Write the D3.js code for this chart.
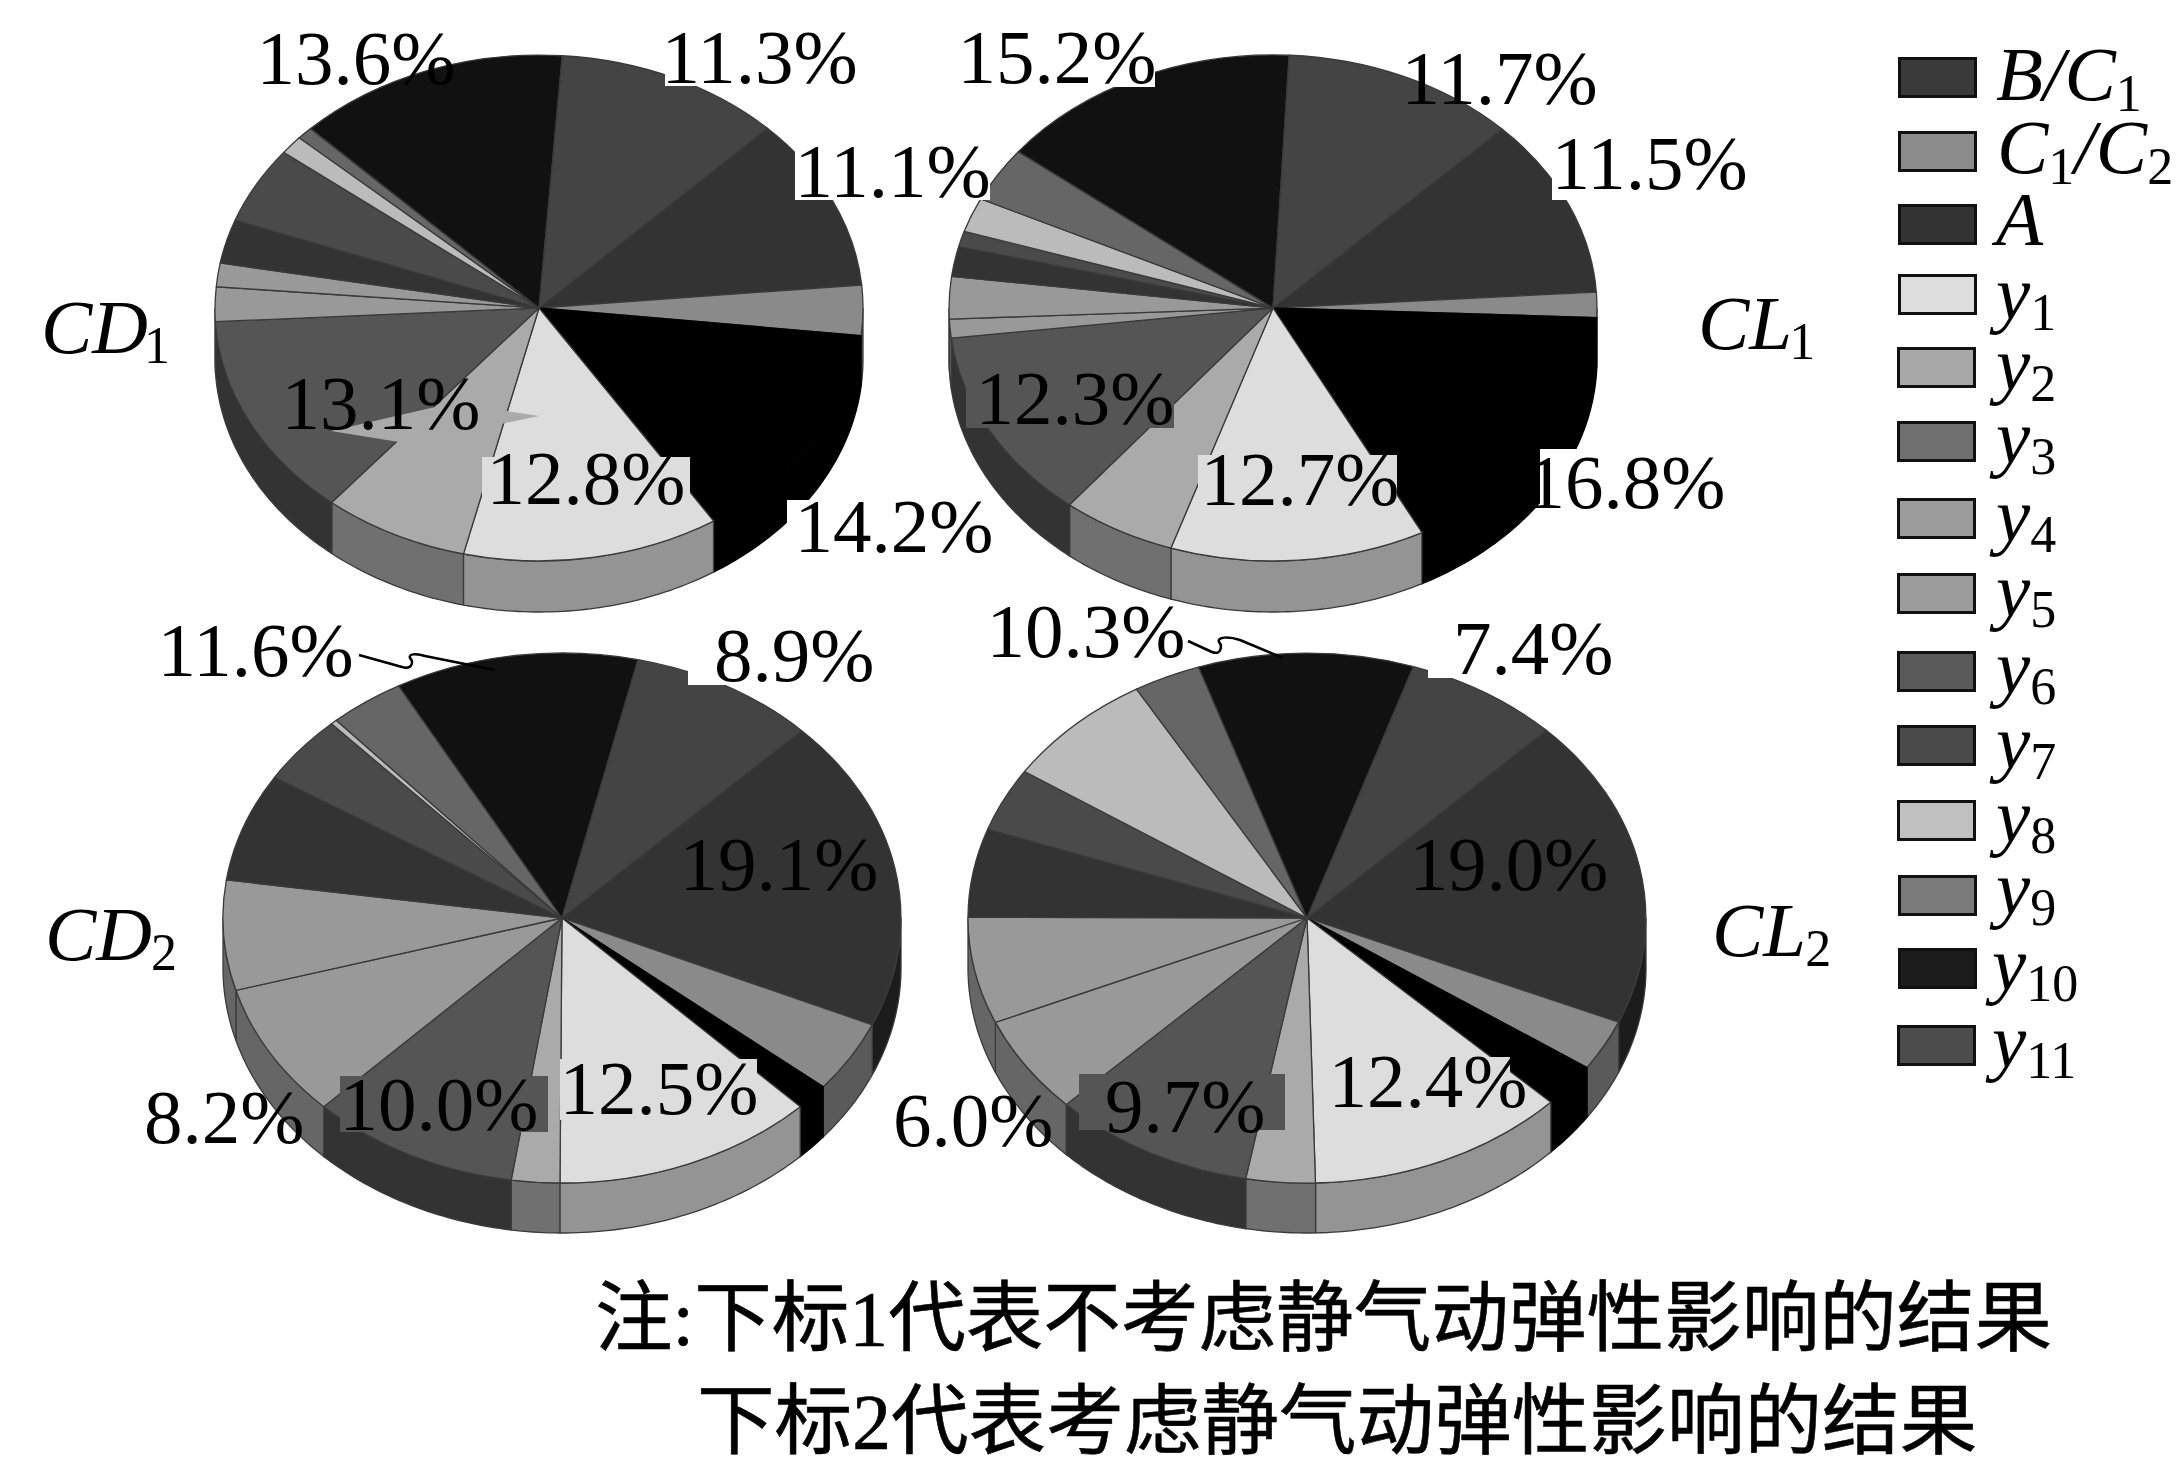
<!DOCTYPE html>
<html><head><meta charset="utf-8">
<script src="https://cdn.jsdelivr.net/npm/d3@7/dist/d3.min.js"></script>
<style>
html,body{margin:0;padding:0;background:#fff}
svg{display:block}
text{font-family:"Liberation Serif","Noto Sans CJK SC",serif;fill:#000}
</style></head><body>
<svg id="c" width="2180" height="1469"></svg>
<script>
// ---------- data ----------
const categories = ["B/C1","C1/C2","A","y1","y2","y3","y4","y5","y6","y7","y8","y9","y10","y11"];
const valuesCD1 = [11.1,3.2,14.2,12.8,7.3,13.1,2.2,1.5,2.8,4.9,1.2,0.8,13.6,11.3];
const valuesCL1 = [11.5,1.6,16.8,12.7,5.7,12.3,1.2,2.7,1.9,1.0,2.2,3.5,15.2,11.7];
const valuesCD2 = [19.1,4.4,1.6,12.5,2.3,10.0,8.2,6.7,6.6,4.2,0.3,3.6,11.6,8.9];
const valuesCL2 = [19.0,3.1,2.7,12.4,3.3,9.7,6.0,6.5,5.4,3.9,7.3,3.2,10.3,7.4];
const noteLines = ["注:下标1代表不考虑静气动弹性影响的结果","下标2代表考虑静气动弹性影响的结果"];

// ---------- styles ----------
const topColors  = ["#333333","#8a8a8a","#000000","#dddddd","#aaaaaa","#555555","#999999","#999999","#333333","#4a4a4a","#bbbbbb","#666666","#111111","#444444"];
const sideColors = ["#1c1c1c","#5a5a5a","#000000","#949494","#707070","#333333","#666666","#666666","#222222","#333333","#888888","#444444","#0a0a0a","#2a2a2a"];
const legendFills = ["#3a3a3a","#8c8c8c","#333333","#dddddd","#a8a8a8","#707070","#9c9c9c","#9c9c9c","#5a5a5a","#4a4a4a","#c0c0c0","#7a7a7a","#1c1c1c","#4c4c4c"];

// ---------- layout ----------
const pieLayout = [
  {vals:valuesCD1, cx:539, cy:308, rx:324, ry:253, depth:51, start:44.8},
  {vals:valuesCL1, cx:1273,cy:308, rx:324, ry:253, depth:51, start:45},
  {vals:valuesCD2, cx:562, cy:918, rx:339, ry:265, depth:50, start:45},
  {vals:valuesCL2, cx:1307,cy:918, rx:339, ry:265, depth:50, start:44.9}
];
// pie index, category index, ink-left x, baseline y
const percentLabels = [
  [0,12,262,84],[0,13,667,83],[0,0,800,197],[0,2,800,552],[0,3,492,504],[0,5,287,429],
  [1,12,963,83],[1,13,1407,104],[1,0,1557,189],[1,5,981,424],[1,3,1206,505],[1,2,1532,508],
  [2,12,163,676],[2,13,717,681],[2,0,685,890],[2,3,565,1114],[2,5,345,1130],[2,6,147,1143],
  [3,12,992,657],[3,13,1454,674],[3,0,1415,890],[3,3,1334,1107],[3,5,1107,1132],[3,6,894,1146]
];
// label background patches left in the figure: x0,y0,x1,y1,fill
const patches = [
  [665,35,860,86,"#fff"],[795,142,990,200,"#fff"],[787,500,990,560,"#fff"],[482,457,690,514,"#ddd"],
  [960,40,1155,87,"#fff"],[1552,130,1760,200,"#fff"],[966,372,1174,428,"#555"],[1198,455,1397,513,"#ddd"],[1540,449,1730,522,"#fff"],
  [688,620,900,685,"#fff"],[340,1076,548,1132,"#555"],[560,1059,757,1120,"#ddd"],
  [1428,620,1640,678,"#fff"],[1079,1074,1285,1130,"#555"],[1333,1057,1510,1105,"#ddd"]
];
const wedge = [[331,431],[435,407],[507,411],[539,416],[501,424],[399,442]];
const leaders = [
  "M359,655 L402,667 C412,670 414,662 410,658 C408,654 416,653 425,656 L495,670",
  "M1188,641 L1212,652 C1222,656 1222,645 1219,642 C1217,637 1228,636 1240,640 L1283,658"
];
const seriesLabels = [
  {base:"CD",sub:"1",x:41,y:353,dx:-4},
  {base:"CL",sub:"1",x:1698,y:349,dx:-3},
  {base:"CD",sub:"2",x:45,y:960,dx:-1},
  {base:"CL",sub:"2",x:1712,y:956,dx:-1}
];
const legendTops = [57,131,204,274,347,421,498,573,651,725,800,875,948,1025];
const legendBases = [100,173,245,319,390,463,541,616,693,768,842,914,990,1067];
const legendLeft = [1898,1898,1898,1898,1897,1897,1897,1897,1897,1897,1897,1898,1898,1897];

// ---------- drawing ----------
const svg = d3.select("#c");
const FS = 77, SUB = 52, rad = Math.PI/180;
const pie = d3.pie().sort(null).value(d=>d);
const arc = d3.arc().innerRadius(0).outerRadius(1);
const line = d3.line();
const edge = i => i===2 ? "#000" : "#3a3a3a";

pieLayout.forEach(p=>{
  const slices = pie.startAngle(p.start*rad).endAngle((p.start+360)*rad)(p.vals);
  const g = svg.append("g");
  const px = a=>p.cx+p.rx*Math.sin(a), py = a=>p.cy-p.ry*Math.cos(a);
  // side walls: the front half of the ellipse (90deg..270deg)
  slices.forEach(s=>{
    for (const shift of [0,-360*rad]) {
      const a0=Math.max(s.startAngle+shift,90*rad), a1=Math.min(s.endAngle+shift,270*rad);
      if(a1<=a0) continue;
      const n=Math.max(2,Math.ceil((a1-a0)/rad));
      const ang=d3.range(n+1).map(i=>a0+(a1-a0)*i/n);
      const pts=ang.map(a=>[px(a),py(a)]).concat(ang.slice().reverse().map(a=>[px(a),py(a)+p.depth]));
      g.append("path").attr("d",line(pts)+"Z")
        .attr("fill",sideColors[s.index]).attr("stroke",edge(s.index)).attr("stroke-width",1.3);
    }
  });
  // top face
  const t=g.append("g").attr("transform",`translate(${p.cx},${p.cy}) scale(${p.rx},${p.ry})`);
  t.selectAll("path").data(slices).join("path")
    .attr("d",arc).attr("fill",d=>topColors[d.index])
    .attr("stroke",d=>edge(d.index)).attr("stroke-width",1.3).attr("vector-effect","non-scaling-stroke")
    .attr("stroke-linejoin","round");
});

// label patches
svg.append("g").selectAll("rect").data(patches).join("rect")
  .attr("x",d=>d[0]).attr("y",d=>d[1]).attr("width",d=>d[2]-d[0]).attr("height",d=>d[3]-d[1]).attr("fill",d=>d[4]);
svg.append("path").attr("d",line(wedge)+"Z").attr("fill","#aaaaaa");

// percent labels
const lsb={"1":5.5,"8":3,"7":1,"6":1};
svg.append("g").selectAll("text").data(percentLabels).join("text")
  .attr("font-size",FS)
  .attr("x",d=>d[2]-(lsb[pieLayout[d[0]].vals[d[1]].toFixed(1)[0]]||2))
  .attr("y",d=>d[3])
  .text(d=>pieLayout[d[0]].vals[d[1]].toFixed(1)+"%");

// leaders
svg.append("g").selectAll("path").data(leaders).join("path")
  .attr("d",d=>d).attr("fill","none").attr("stroke","#000").attr("stroke-width",2.5);

// series names
seriesLabels.forEach(s=>{
  const t=svg.append("text").attr("x",s.x).attr("y",s.y).attr("font-size",FS);
  t.append("tspan").attr("font-style","italic").text(s.base);
  t.append("tspan").attr("font-size",SUB).attr("dx",s.dx).attr("dy",10).text(s.sub);
});

// legend
const legend=svg.append("g");
categories.forEach((c,i)=>{
  legend.append("rect").attr("x",legendLeft[i]+1.5).attr("y",legendTops[i]+1.5)
    .attr("width",76).attr("height",38)
    .attr("fill",legendFills[i]).attr("stroke","#111").attr("stroke-width",3);
  const bx = c==="C1/C2"?1997:(c==="y10"||c==="y11"?1992:1996);
  const t=legend.append("text").attr("x",bx).attr("y",legendBases[i]).attr("font-size",FS);
  const it=(s)=>t.append("tspan").attr("font-style","italic").attr("dy",0).text(s);
  if(c==="B/C1"){
    it("B/C");
    t.append("tspan").attr("font-size",SUB).attr("dy",11).text("1");
  } else if(c==="C1/C2"){
    it("C");
    t.append("tspan").attr("font-size",SUB).attr("dy",11).text("1");
    t.append("tspan").attr("font-style","italic").attr("dy",-11).text("/C");
    t.append("tspan").attr("font-size",SUB).attr("dy",11).text("2");
  } else if(c==="A"){
    it("A");
  } else {
    it("y");
    t.append("tspan").attr("font-size",SUB).attr("dy",11).text(c.slice(1));
  }
});

// note
svg.append("g").selectAll("text").data(noteLines).join("text")
  .attr("font-size",77.6).attr("x",(d,i)=>i?697:595).attr("y",(d,i)=>i?1448:1345)
  .attr("stroke","#000").attr("stroke-width",0.6).text(d=>d);
</script>
</body></html>
